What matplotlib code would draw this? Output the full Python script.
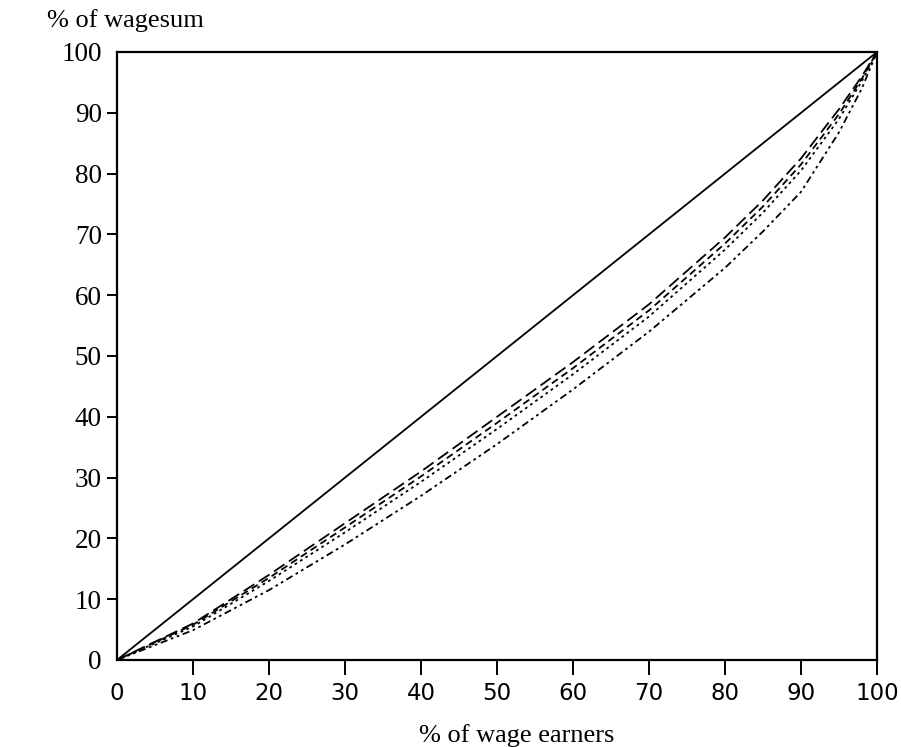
import matplotlib
matplotlib.use("Agg")
import matplotlib.pyplot as plt

# share of wage earners (%)
EARNERS = [0, 10, 20, 30, 40, 50, 60, 70, 80, 85, 90, 95, 98, 100]
# cumulative share of the wage sum (%), one list per curve
EQUALITY = [0, 10, 20, 30, 40, 50, 60, 70, 80, 85, 90, 95, 98, 100]
CURVE_A = [0, 6.0, 14.0, 22.5, 31.0, 40.0, 49.0, 58.5, 69.5, 75.6, 82.5, 90.6, 96.0, 100]
CURVE_B = [0, 5.8, 13.5, 21.8, 30.2, 39.0, 48.0, 57.5, 68.5, 74.6, 81.5, 89.8, 95.6, 100]
CURVE_C = [0, 5.5, 13.0, 21.0, 29.3, 38.0, 47.0, 56.5, 67.5, 73.6, 80.5, 89.0, 95.2, 100]
CURVE_D = [0, 4.9, 11.5, 19.0, 27.0, 35.5, 44.5, 54.0, 64.5, 70.5, 77.0, 86.8, 94.0, 100]
TICKS = [0, 10, 20, 30, 40, 50, 60, 70, 80, 90, 100]

SERIF = ["Liberation Serif", "DejaVu Serif"]
SANS = ["DejaVu Sans"]


def main() -> None:
    fig = plt.figure(figsize=(9.01, 7.47), dpi=100)
    ax = fig.add_axes([0.1299, 0.1165, 0.8435, 0.8139])

    ax.plot(EARNERS, EQUALITY, color="black", lw=1.3)
    ax.plot(EARNERS, CURVE_A, color="black", lw=1.3, ls=(0, (7, 3)))
    ax.plot(EARNERS, CURVE_B, color="black", lw=1.3, ls=(0, (4, 2.5)))
    ax.plot(EARNERS, CURVE_C, color="black", lw=1.3, ls=(0, (1.5, 2)))
    ax.plot(EARNERS, CURVE_D, color="black", lw=1.3, ls=(0, (4, 2, 1.5, 2, 1.5, 2)))

    ax.set_xlim(0, 100)
    ax.set_ylim(0, 100)
    ax.set_xticks(TICKS)
    ax.set_yticks(TICKS)
    ax.set_xticklabels([str(t) for t in TICKS], family=SANS, fontsize=16.5)
    ax.set_yticklabels([str(t) for t in TICKS], family=SERIF, fontsize=19.5)
    ax.tick_params(axis="both", direction="out", width=1.4, color="black")
    ax.tick_params(axis="x", length=11, pad=5)
    ax.tick_params(axis="y", length=7, pad=4)

    # no marks at the corners where the frame already meets
    xt = ax.xaxis.get_major_ticks()
    xt[0].tick1line.set_visible(False)
    yt = ax.yaxis.get_major_ticks()
    yt[0].tick1line.set_visible(False)
    yt[-1].tick1line.set_visible(False)

    for side in ax.spines.values():
        side.set_linewidth(1.6)

    fig.text(0.052, 0.972, "% of wagesum", family=SERIF, fontsize=19,
             ha="left", va="center")
    fig.text(0.574, 0.015, "% of wage earners", family=SERIF, fontsize=19,
             ha="center", va="center")

    fig.savefig("out.png", dpi=100)
    plt.close(fig)


if __name__ == "__main__":
    main()
